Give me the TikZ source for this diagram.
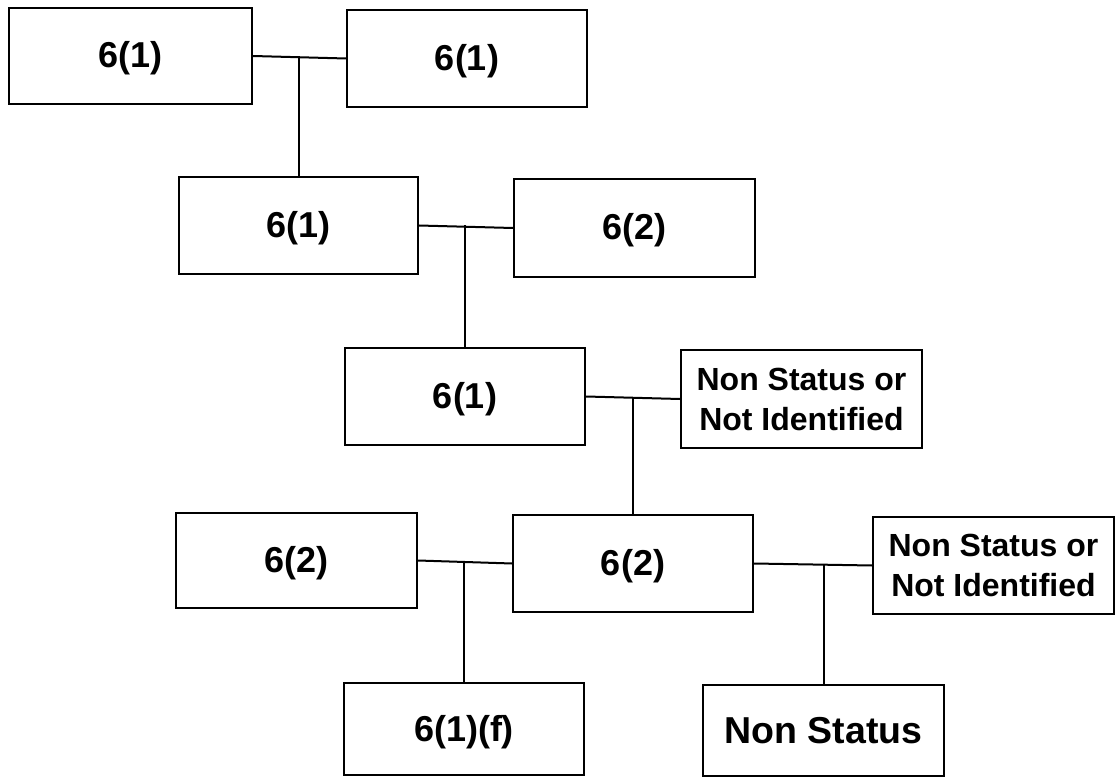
\documentclass[tikz,border=0pt]{standalone}
\usepackage{fontspec}
\setmainfont{Liberation Sans}
\begin{document}
\begin{tikzpicture}[x=1pt,y=-1pt,
  box/.style={draw=black,line width=2pt,inner sep=0pt,align=center,
    text height=24pt,text depth=0pt,
    font=\bfseries\fontsize{36}{40}\selectfont},
  smallbox/.style={draw=black,line width=2pt,inner sep=0pt,align=center,
    font=\bfseries\fontsize{32}{40}\selectfont},
  bigbox/.style={box,text height=25pt,font=\bfseries\fontsize{37.5}{42}\selectfont},
  link/.style={draw=black,line width=2pt}]
\useasboundingbox (0,0) rectangle (1117,778);
\fill[white] (0,0) rectangle (1117,778);
\node[box,minimum width=243pt,minimum height=96pt] (A) at (130.5,56) {6(1)};
\node[box,minimum width=240pt,minimum height=97pt] (B) at (467,58.5) {6(1)};
\node[box,minimum width=239pt,minimum height=97pt] (C) at (298.5,225.5) {6(1)};
\node[box,minimum width=241pt,minimum height=98pt] (D) at (634.5,228) {6(2)};
\node[box,minimum width=240pt,minimum height=97pt] (E) at (465,396.5) {6(1)};
\node[smallbox,minimum width=241pt,minimum height=98pt] (F) at (801.5,399) {Non Status or\\Not Identified};
\node[box,minimum width=241pt,minimum height=95pt] (H) at (296.5,560.5) {6(2)};
\node[box,minimum width=240pt,minimum height=97pt] (G) at (633,563.5) {6(2)};
\node[smallbox,minimum width=241pt,minimum height=97pt] (I) at (993.5,565.5) {Non Status or\\Not Identified};
\node[box,minimum width=240pt,minimum height=92pt] (J) at (464,729) {6(1)(f)};
\node[bigbox,minimum width=241pt,minimum height=91pt] (K) at (823.5,730.5) {Non Status};
% connectors
\draw[link] (A.east) -- (B.west);
\draw[link] (C.north) -- (C.north |- A.east);
\draw[link] (C.east) -- (D.west);
\draw[link] (E.north) -- (E.north |- C.east);
\draw[link] (E.east) -- (F.west);
\draw[link] (G.north) -- (G.north |- E.east);
\draw[link] (H.east) -- (G.west);
\draw[link] (J.north) -- (J.north |- H.east);
\draw[link] (G.east) -- (I.west);
\draw[link] (K.north) -- (K.north |- G.east);
\end{tikzpicture}
\end{document}
